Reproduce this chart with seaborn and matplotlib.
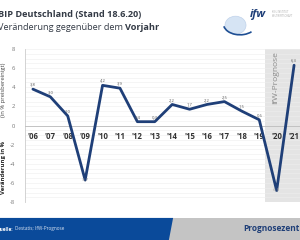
import matplotlib
matplotlib.use("Agg")
import matplotlib.pyplot as plt
import matplotlib.patches as mpatches
import seaborn as sns
import pandas as pd

years = ["'06", "'07", "'08", "'09", "'10", "'11", "'12", "'13",
         "'14", "'15", "'16", "'17", "'18", "'19", "'20", "'21"]
growth = [3.8, 3.0, 1.0, -5.7, 4.2, 3.9, 0.4, 0.4,
          2.2, 1.7, 2.2, 2.5, 1.5, 0.6, -6.8, 6.3]
y_ticks = [-8, -6, -4, -2, 0, 2, 4, 6, 8]
forecast_start = 13.35

sns.set_theme(style="white")
plt.rcParams['font.family'] = ['Open Sans', 'DejaVu Sans']

df = pd.DataFrame({"pos": range(len(years)), "growth": growth})

fig = plt.figure(figsize=(3.0, 2.4), dpi=100)
ax = fig.add_axes([0.083, 0.158, 0.917, 0.638])

# spine position first (it resets the ticks)
ax.spines["bottom"].set_position(("data", 0))
ax.spines["bottom"].set_color("#bbbbbb")
ax.spines["bottom"].set_linewidth(0.6)
ax.spines["left"].set_color("#cccccc")
ax.spines["left"].set_linewidth(0.6)
ax.spines["top"].set_visible(False)
ax.spines["right"].set_visible(False)

# forecast shading
ax.axvspan(forecast_start, 16, color="#e4e4e4", zorder=0, lw=0)
ax.text(13.95, 5.0, "IfW-Prognose", rotation=90, ha="center", va="center",
        fontsize=6, color="#8a8a8a")

# fine gridlines
for g in [v / 2 for v in range(-16, 17)]:
    ax.axhline(g, color="#eeeeee", lw=0.4, zorder=0.5)

sns.lineplot(data=df, x="pos", y="growth", ax=ax, color="#1f3f78", lw=2.0, zorder=3)

for i, v in enumerate(growth):
    lab = f"{v:.1f}".replace(".", ",")
    if v < 0:
        ax.text(i, v + 0.35, lab, ha="center", va="top", fontsize=3, color="#999999", zorder=4)
    else:
        ax.text(i, v + 0.3, lab, ha="center", va="bottom", fontsize=3, color="#555555", zorder=4)

ax.set_xlim(-0.46, 15.34)
ax.set_ylim(-8, 8)
ax.set_xlabel("")
ax.set_ylabel("")
ax.set_yticks(y_ticks)
ax.set_yticklabels([str(t) for t in y_ticks], fontsize=4.2, color="#777777")
ax.set_xticks(range(len(years)))
ax.set_xticklabels(years, fontsize=5.6, fontweight="bold", color="#333333")
ax.tick_params(axis="x", length=0, pad=5)
ax.tick_params(axis="y", length=0, pad=7)

# y-axis label
fig.text(0.012, 0.30, "Veränderung in %", rotation=90, ha="center", va="center",
         fontsize=4.2, fontweight="bold", color="#222222")
fig.text(0.012, 0.625, "(in % preisbereinigt)", rotation=90, ha="center", va="center",
         fontsize=4.2, color="#444444")

# titles
fig.text(-0.008, 0.94, "BIP Deutschland (Stand 18.6.20)", fontsize=6.6, fontweight="bold",
         color="#333a45", va="center")
t2 = fig.text(-0.008, 0.887, "Veränderung gegenüber dem ", fontsize=6.6, color="#333a45",
              va="center")
fig.canvas.draw()
bb = t2.get_window_extent().transformed(fig.transFigure.inverted())
fig.text(bb.x1, 0.887, "Vorjahr", fontsize=6.6, fontweight="bold", color="#333a45", va="center")

# logo
fig.patches.append(mpatches.Ellipse((0.785, 0.895), 0.07, 0.075, transform=fig.transFigure,
                                    facecolor="#d6e4f4", edgecolor="#c0d2ea", lw=0.5))
fig.patches.append(mpatches.Arc((0.80, 0.90), 0.11, 0.09, theta1=190, theta2=320,
                                transform=fig.transFigure, color="#1f4f94", lw=1.2))
fig.text(0.86, 0.94, "ifw", fontsize=8, fontweight="bold", style="italic",
         color="#1f3f78", ha="center", va="center")
fig.text(0.905, 0.94, "KIEL INSTITUT\nWELTWIRTSCHAFT", fontsize=1.8, color="#aaaaaa",
         va="center", linespacing=1.0)

# footer
fig.patches.append(mpatches.Rectangle((0, 0), 1, 0.092, transform=fig.transFigure,
                                      facecolor="#c4c4c4", edgecolor="none"))
fig.patches.append(mpatches.Polygon([(0, 0), (0.563, 0), (0.577, 0.092), (0, 0.092)],
                                    closed=True, transform=fig.transFigure,
                                    facecolor="#0a4a9a", edgecolor="none"))
fig.text(-0.01, 0.046, "Quelle:", fontsize=3.3, fontweight="bold", color="white", va="center")
fig.text(0.05, 0.046, "Destatis; IfW-Prognose", fontsize=3.3, color="#dde6f3", va="center")
fig.text(0.81, 0.046, "Prognosezentrum", fontsize=6, fontweight="bold", color="#1f3f78",
         va="center")

fig.savefig("out.png", dpi=100)
